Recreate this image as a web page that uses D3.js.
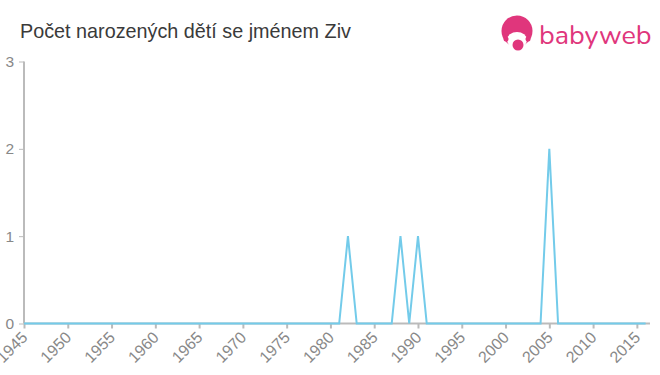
<!DOCTYPE html>
<html><head><meta charset="utf-8">
<script src="https://cdn.jsdelivr.net/npm/d3@7"></script>
<style>body{margin:0;background:#fff;}svg{display:block;font-family:"Liberation Sans",Arial,sans-serif;}</style>
</head><body>
<script>
const title = "Počet narozených dětí se jménem Ziv";
const years = d3.range(1945, 2017);
const nonZero = {1982: 1, 1988: 1, 1990: 1, 2005: 2};
const values = years.map(y => nonZero[y] || 0);
const xTicks = d3.range(1945, 2016, 5);
const yTicks = [0, 1, 2, 3];

const W = 660, H = 375;
const svg = d3.select("body").append("svg").attr("width", W).attr("height", H);

const x = d3.scaleLinear().domain([1945, 2016.5]).range([24, 650]);
const y = d3.scaleLinear().domain([0, 3]).range([323.5, 61.5]);

// title
svg.append("text").attr("x", 20).attr("y", 38).attr("font-size", 19.8).attr("fill", "#3a3a3a").text(title);

// logo
const logo = svg.append("g");
logo.append("circle").attr("cx", 517).attr("cy", 31).attr("r", 15.5).attr("fill", "#e0367c");
logo.append("ellipse").attr("cx", 517).attr("cy", 40).attr("rx", 10).attr("ry", 8).attr("fill", "#fff");
logo.append("circle").attr("cx", 518).attr("cy", 45).attr("r", 5.5).attr("fill", "#e0367c");
logo.append("circle").attr("cx", 506).attr("cy", 39).attr("r", 2.5).attr("fill", "#e0367c");
logo.append("circle").attr("cx", 528).attr("cy", 39).attr("r", 2.5).attr("fill", "#e0367c");
logo.append("text").attr("x", 539).attr("y", 44).attr("font-size", 27).attr("fill", "#e0367c")
  .attr("font-family", "Nunito, 'Open Sans', sans-serif").text("babyweb");

// y axis
const ya = svg.append("g").attr("transform", "translate(24,0)")
  .call(d3.axisLeft(y).tickValues(yTicks).tickSize(5).tickPadding(5).tickFormat(d3.format("d")));
ya.select(".domain").attr("stroke", "#bbb").attr("stroke-width", 2).attr("d", `M0,${y(3)}V${y(0)}`);
ya.selectAll(".tick line").attr("stroke", "#bbb").attr("stroke-width", 1);
ya.selectAll(".tick text").attr("fill", "#888").attr("font-size", 15.5).attr("font-family", "Liberation Sans, Arial, sans-serif");

// x axis
const xa = svg.append("g").attr("transform", `translate(0,${y(0)})`)
  .call(d3.axisBottom(x).tickValues(xTicks).tickSize(5).tickFormat(d3.format("d")));
xa.select(".domain").attr("stroke", "#bbb").attr("stroke-width", 2).attr("d", `M24,0H650`);
xa.selectAll(".tick line").attr("stroke", "#bbb").attr("stroke-width", 2);
xa.selectAll(".tick text").attr("fill", "#888").attr("font-size", 16)
  .attr("font-family", "Liberation Sans, Arial, sans-serif")
  .attr("text-anchor", "end").attr("dy", null).attr("y", 0)
  .attr("transform", "translate(4,15) rotate(-45)");

// line
const line = d3.line().x((d, i) => x(years[i])).y(d => y(d));
svg.append("path").datum(values).attr("d", line).attr("fill", "none")
  .attr("stroke", "#73cbea").attr("stroke-width", 2);
</script>
</body></html>
